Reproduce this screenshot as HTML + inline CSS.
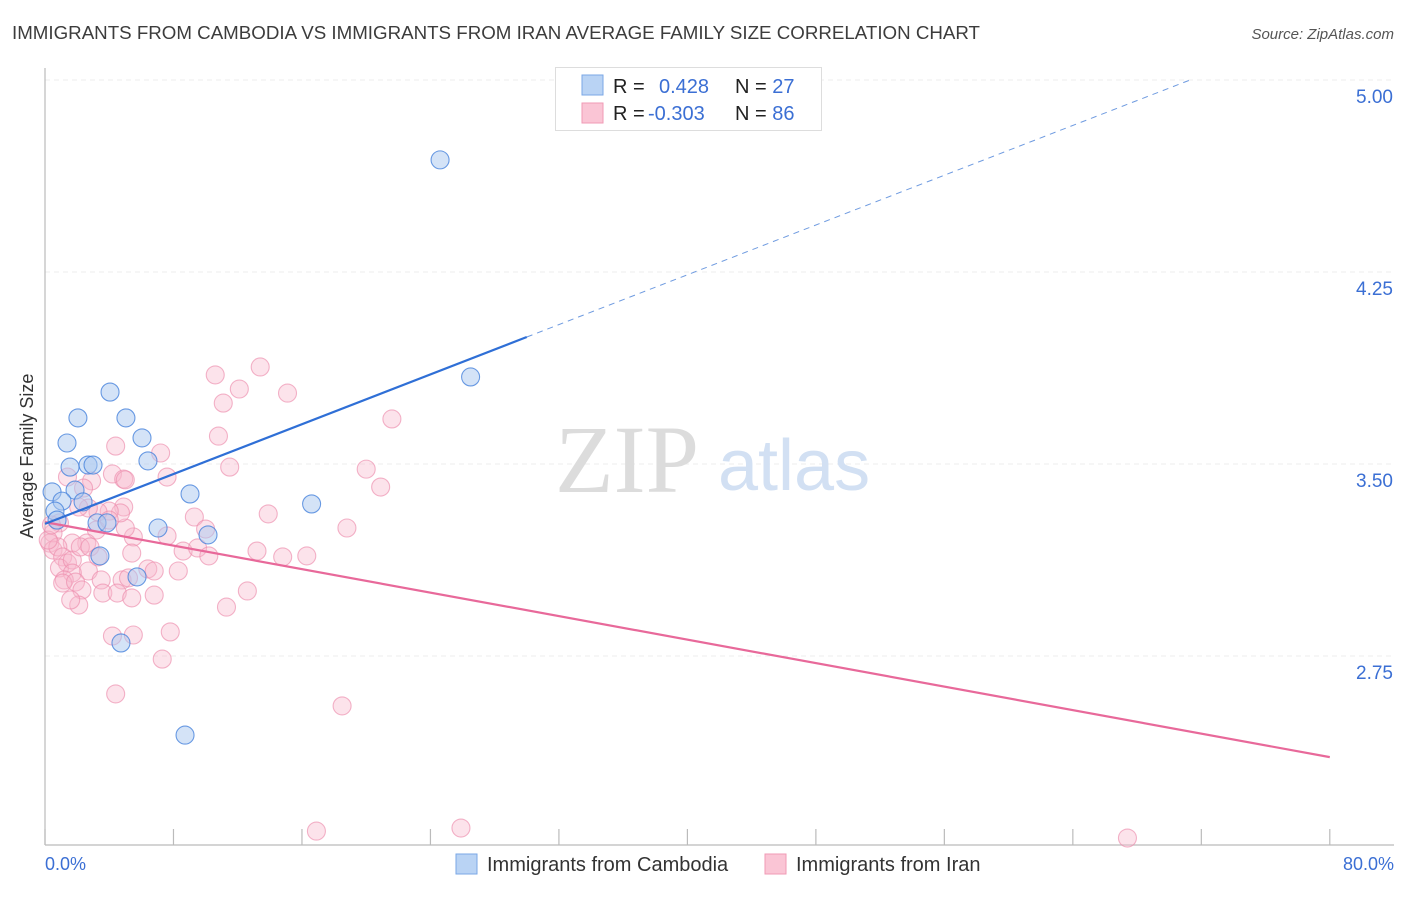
<!DOCTYPE html>
<html><head><meta charset="utf-8">
<style>
body{margin:0;background:#fff;font-family:"Liberation Sans",sans-serif;}
svg text{font-family:"Liberation Sans",sans-serif;}
</style></head>
<body>
<svg id="chart" width="1406" height="892" viewBox="0 0 1406 892">
<text x="12" y="39" font-size="18.6" fill="#3c3c3c" textLength="968" lengthAdjust="spacingAndGlyphs">IMMIGRANTS FROM CAMBODIA VS IMMIGRANTS FROM IRAN AVERAGE FAMILY SIZE CORRELATION CHART</text>
<text x="1394" y="39" font-size="15" fill="#555" font-style="italic" text-anchor="end">Source: ZipAtlas.com</text>
<g id="grid"></g>
<line x1="45" y1="68" x2="45" y2="845" stroke="#bbb" stroke-width="1.2"/>
<line x1="45" y1="845" x2="1394" y2="845" stroke="#bbb" stroke-width="1.2"/>
<g id="xticks"></g>
<g id="yticks"></g>
<text x="555" y="492" font-size="96" fill="#dcdcdc" style="font-family:'Liberation Serif',serif">ZIP</text>
<text x="718" y="490" font-size="72" fill="#d2e0f3">atlas</text>
<g id="pink"></g>
<g id="blue"></g>
<g id="lines"></g>
<text x="33" y="456" font-size="18" fill="#333" text-anchor="middle" transform="rotate(-90 33 456)">Average Family Size</text>
<text x="45" y="870" font-size="18" fill="#3b6fd4">0.0%</text>
<text x="1394" y="870" font-size="18" fill="#3b6fd4" text-anchor="end">80.0%</text>
<g>
<rect x="555.5" y="67.5" width="266" height="63" fill="#fff" stroke="#ddd"/>
<rect x="582" y="75" width="21" height="20" fill="#b9d3f4" stroke="#7aa7e6"/>
<rect x="582" y="103" width="21" height="20" fill="#fac5d5" stroke="#f09ab5"/>
<text x="613" y="93" font-size="20" fill="#222">R = <tspan fill="#3b6fd4" x="659">0.428</tspan></text>
<text x="735" y="93" font-size="20" fill="#222">N = <tspan fill="#3b6fd4">27</tspan></text>
<text x="613" y="120" font-size="20" fill="#222">R = <tspan fill="#3b6fd4" x="648">-0.303</tspan></text>
<text x="735" y="120" font-size="20" fill="#222">N = <tspan fill="#3b6fd4">86</tspan></text>
</g>
<g>
<rect x="456" y="854" width="21" height="20" fill="#b9d3f4" stroke="#7aa7e6"/>
<text x="487" y="871" font-size="20" fill="#333">Immigrants from Cambodia</text>
<rect x="765" y="854" width="21" height="20" fill="#fac5d5" stroke="#f09ab5"/>
<text x="796" y="871" font-size="20" fill="#333">Immigrants from Iran</text>
</g>
</svg>
<script>
const yTicks=[2.75,3.50,4.25,5.00];
const xTicks=[0,8,16,24,32,40,48,56,64,72,80];
const blueX=[24.6,26.5,4.05,2.05,5.04,1.37,6.04,1.56,2.68,2.99,6.41,0.44,1.87,9.03,1.06,2.37,16.6,0.62,0.75,3.24,3.86,7.04,10.15,3.42,5.73,4.73,8.72];
const blueY=[4.688,3.840,3.781,3.680,3.680,3.582,3.602,3.488,3.496,3.496,3.512,3.391,3.398,3.383,3.355,3.352,3.344,3.316,3.281,3.270,3.270,3.250,3.223,3.141,3.059,2.801,2.441];
const pinkX=[10.6,13.4,12.1,15.1,11.1,10.8,21.6,4.4,7.2,4.2,4.9,2.9,7.6,11.5,20.0,20.9,1.4,2.4,13.9,18.8,9.3,10.0,7.6,5.5,5.0,4.9,4.7,4.0,3.3,2.7,2.1,3.2,2.6,1.7,0.9,0.5,0.3,0.5,0.8,1.1,1.4,0.9,1.7,2.2,2.8,3.3,5.4,8.6,9.5,10.2,13.2,14.8,16.3,6.4,6.8,8.3,2.7,1.7,1.2,1.1,1.9,2.3,3.5,4.8,5.2,3.6,4.5,5.4,6.8,2.1,12.6,11.3,4.2,5.5,7.8,7.3,4.4,18.5,16.9,25.9,67.4,0.2,0.4,1.6,5.0,4.0];
const pinkY=[3.848,3.879,3.793,3.777,3.738,3.609,3.676,3.570,3.543,3.461,3.441,3.434,3.449,3.488,3.480,3.410,3.449,3.406,3.305,3.250,3.293,3.246,3.219,3.215,3.250,3.332,3.309,3.316,3.313,3.328,3.332,3.242,3.191,3.191,3.270,3.230,3.191,3.164,3.176,3.137,3.113,3.094,3.125,3.176,3.176,3.137,3.152,3.160,3.172,3.141,3.160,3.137,3.141,3.090,3.082,3.082,3.082,3.074,3.047,3.035,3.039,3.008,3.047,3.047,3.055,2.996,2.996,2.977,2.988,2.949,3.004,2.941,2.828,2.832,2.844,2.738,2.602,2.555,2.066,2.078,2.039,3.203,3.262,2.969,3.438,3.281];
const blueLine=[[0,3.266],[30,3.996]];
const blueDash=[[30,3.996],[71.3,5.0]];
const pinkLine=[[0,3.273],[80,2.355]];
const NS='http://www.w3.org/2000/svg';
const sx=v=>45+v*16.06, sy=v=>80+(5-v)*256;
function mk(t,a,p){const e=document.createElementNS(NS,t);for(const k in a)e.setAttribute(k,a[k]);p.appendChild(e);return e;}
const grid=document.getElementById('grid'),yt=document.getElementById('yticks'),xt=document.getElementById('xticks');
yTicks.forEach(v=>{
 const l=mk('line',{x1:45,x2:1394,y1:sy(v),y2:sy(v),stroke:'#ececec','stroke-dasharray':'5,4'},grid);
 
 
 const t=mk('text',{x:1393,y:sy(v)+23,'font-size':19,fill:'#3b6fd4','text-anchor':'end'},yt);
 t.textContent=v.toFixed(2);
 
 
});
xTicks.forEach(v=>{
 const l=mk('line',{x1:sx(v),x2:sx(v),y1:829,y2:845,stroke:'#bbb','stroke-width':1.2},xt);
 
 
});
function pts(X,Y,g,fill,stroke,name){X.forEach((x,i)=>{
 const c=mk('circle',{cx:sx(x),cy:sy(Y[i]),r:9,fill:fill,stroke:stroke,'stroke-width':1.1},g);
 
 
});}
pts(pinkX,pinkY,document.getElementById('pink'),'rgba(248,185,205,0.4)','rgba(236,140,172,0.65)','iran-point');
pts(blueX,blueY,document.getElementById('blue'),'rgba(170,200,240,0.5)','rgba(70,130,220,0.8)','cambodia-point');
const lg=document.getElementById('lines');
function ln(p,stroke,w,dash,name){const l=mk('line',{x1:sx(p[0][0]),y1:sy(p[0][1]),x2:sx(p[1][0]),y2:sy(p[1][1]),stroke:stroke,'stroke-width':w},lg);
 if(dash)l.setAttribute('stroke-dasharray',dash);
 
 }
ln(pinkLine,'#e8699a',2.2,null,'iran-trend-line');
ln(blueLine,'#2f6fd6',2.2,null,'cambodia-trend-line');
ln(blueDash,'#6f9be0',1,'6,5','cambodia-trend-extension');
</script>
</body></html>
